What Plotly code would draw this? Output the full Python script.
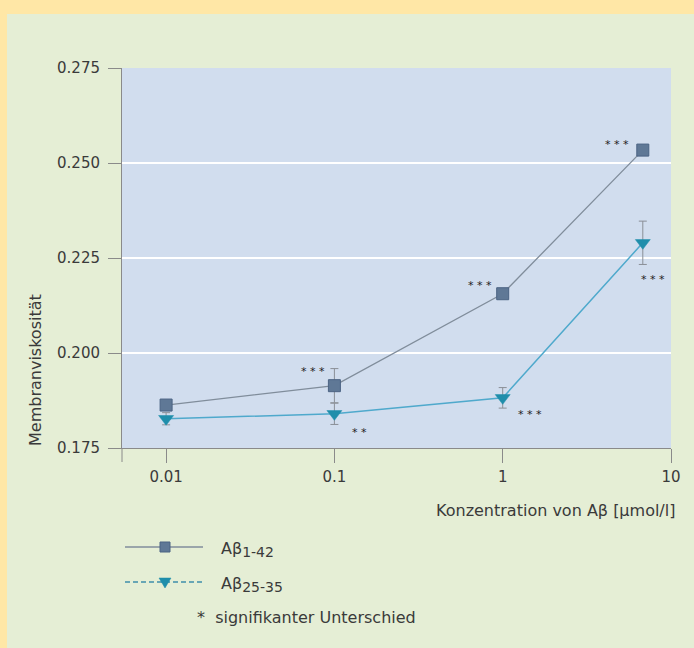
import math
import plotly.graph_objects as go

# ---- data ----
conc = [0.01, 0.1, 1, 6.8]
ab142 = [0.1863, 0.1914, 0.2156, 0.2534]
ab142_err = [0.0010, 0.0045, 0.0010, 0.0010]
ab2535 = [0.1827, 0.1840, 0.1882, 0.2290]
ab2535_err = [0.0016, 0.0028, 0.0027, 0.0057]
sig142 = ["", "* * *", "* * *", "* * *"]
sig2535 = ["", "* *", "* * *", "* * *"]
ytick_vals = [0.175, 0.200, 0.225, 0.250, 0.275]
xtick_vals = [0.01, 0.1, 1, 10]
xtick_text = ["0.01", "0.1", "1", "10"]

W, H = 694, 648
L, R, T, B = 122, 23, 68, 200
PW, PH = W - L - R, H - T - B


def px(x):
    return (x - L) / PW


def py(y):
    return (H - B - y) / PH


FONT = "DejaVu Sans, Liberation Sans, Arial, sans-serif"
TXT = "#3a3a3a"
C1_LINE, C1_MK, C1_MKL = "#808d9b", "#5f7896", "#4b6383"
C2_LINE, C2_MK = "#4fa9cc", "#1f8eab"

fig = go.Figure()
fig.add_trace(go.Scatter(
    x=conc, y=ab142, mode="lines+markers", showlegend=False, hoverinfo="skip",
    line=dict(color=C1_LINE, width=1.3),
    marker=dict(symbol="square", size=12, color=C1_MK, line=dict(color=C1_MKL, width=1)),
    error_y=dict(type="data", array=ab142_err, color="#8a8f96", thickness=1, width=4),
))
fig.add_trace(go.Scatter(
    x=conc, y=ab2535, mode="lines+markers", showlegend=False, hoverinfo="skip",
    line=dict(color=C2_LINE, width=1.5),
    marker=dict(symbol="triangle-down", size=13, color=C2_MK, line=dict(color=C2_MK, width=0.5)),
    error_y=dict(type="data", array=ab2535_err, color="#8a8f96", thickness=1, width=4),
))

ann = []
# significance stars (pixel offsets relative to their data points; log axis -> log10 x)
off142 = [(0, 0), (-21, 14), (-23, 8), (-26, 6)]
off2535 = [(0, 0), (25, -19), (27, -17), (10, -37)]
for series, sig, offs in ((ab142, sig142, off142), (ab2535, sig2535, off2535)):
    for xv, yv, s, (dx, dy) in zip(conc, series, sig, offs):
        if s:
            ann.append(dict(x=math.log10(xv), y=yv, xref="x", yref="y", text=s,
                            showarrow=False, xshift=dx, yshift=dy,
                            font=dict(family=FONT, size=11, color="#222")))

# axis titles
ann.append(dict(x=px(35), y=0, xref="paper", yref="paper", text="Membranviskosität",
                textangle=-90, showarrow=False, xanchor="center", yanchor="bottom",
                font=dict(family=FONT, size=16, color=TXT)))
ann.append(dict(x=px(677), y=py(510), xref="paper", yref="paper",
                text="Konzentration von Aβ [µmol/l]", showarrow=False,
                xanchor="right", yanchor="middle", font=dict(family=FONT, size=16, color=TXT)))

# legend texts
ann.append(dict(x=px(219), y=py(549), xref="paper", yref="paper",
                text="Aβ<sub><span style='font-size:14px'>1-42</span></sub>",
                showarrow=False, xanchor="left", yanchor="middle",
                font=dict(family=FONT, size=16, color=TXT)))
ann.append(dict(x=px(219), y=py(584), xref="paper", yref="paper",
                text="Aβ<sub><span style='font-size:14px'>25-35</span></sub>",
                showarrow=False, xanchor="left", yanchor="middle",
                font=dict(family=FONT, size=16, color=TXT)))
ann.append(dict(x=px(195), y=py(617), xref="paper", yref="paper",
                text="*  signifikanter Unterschied", showarrow=False, xanchor="left",
                yanchor="middle", font=dict(family=FONT, size=16, color=TXT)))

shapes = [
    # yellow frame strips
    dict(type="rect", xref="paper", yref="paper", x0=px(-2), x1=px(7), y0=py(H + 2), y1=py(-2),
         fillcolor="#ffe7a6", line=dict(width=0), layer="below"),
    dict(type="rect", xref="paper", yref="paper", x0=px(-2), x1=px(W + 2), y0=py(14), y1=py(-2),
         fillcolor="#ffe7a6", line=dict(width=0), layer="below"),
    # y axis line extension below the plot
    dict(type="line", xref="paper", yref="paper", x0=0, x1=0, y0=py(448), y1=py(462),
         line=dict(color="#8a8a8a", width=1)),
    # legend keys
    dict(type="line", xref="paper", yref="paper", x0=px(125), x1=px(203), y0=py(547), y1=py(547),
         line=dict(color=C1_LINE, width=1.3)),
    dict(type="rect", xref="paper", yref="paper", xsizemode="pixel", ysizemode="pixel",
         xanchor=px(165), yanchor=py(547), x0=-5, x1=5, y0=-5, y1=5,
         fillcolor=C1_MK, line=dict(color=C1_MKL, width=1)),
    dict(type="line", xref="paper", yref="paper", x0=px(125), x1=px(203), y0=py(582), y1=py(582),
         line=dict(color="#3f8fab", width=1.3, dash="5px,3px")),
    dict(type="path", xref="paper", yref="paper", xsizemode="pixel", ysizemode="pixel",
         xanchor=px(165), yanchor=py(582), path="M-6,4 L6,4 L0,-6 Z",
         fillcolor=C2_MK, line=dict(color=C2_MK, width=0.5)),
]

fig.update_layout(
    width=W, height=H,
    margin=dict(l=L, r=R, t=T, b=B),
    paper_bgcolor="#e5eed5",
    plot_bgcolor="#d1ddee",
    font=dict(family=FONT, color=TXT, size=16),
    annotations=ann,
    shapes=shapes,
    showlegend=False,
    hovermode=False,
)
fig.update_xaxes(
    type="log", range=[-2.262, 1.0], tickvals=xtick_vals, ticktext=xtick_text,
    showgrid=False, zeroline=False, showline=True, linecolor="#8a8a8a", linewidth=1,
    ticks="outside", ticklen=14, tickcolor="#8a8a8a", tickwidth=1,
    tickfont=dict(family=FONT, size=15, color=TXT), ticklabelstandoff=1,
)
fig.update_yaxes(
    range=[0.175, 0.275], tickvals=ytick_vals, tickformat=".3f",
    showgrid=True, gridcolor="#ffffff", gridwidth=1.5, zeroline=False,
    showline=True, linecolor="#8a8a8a", linewidth=1,
    ticks="outside", ticklen=13, tickcolor="#8a8a8a", tickwidth=1,
    tickfont=dict(family=FONT, size=15, color=TXT), ticklabelstandoff=5,
)

fig.write_html(
    "out.html",
    config={"displayModeBar": False},
    post_script="document.body.style.margin='0';document.body.style.overflow='hidden';",
)
